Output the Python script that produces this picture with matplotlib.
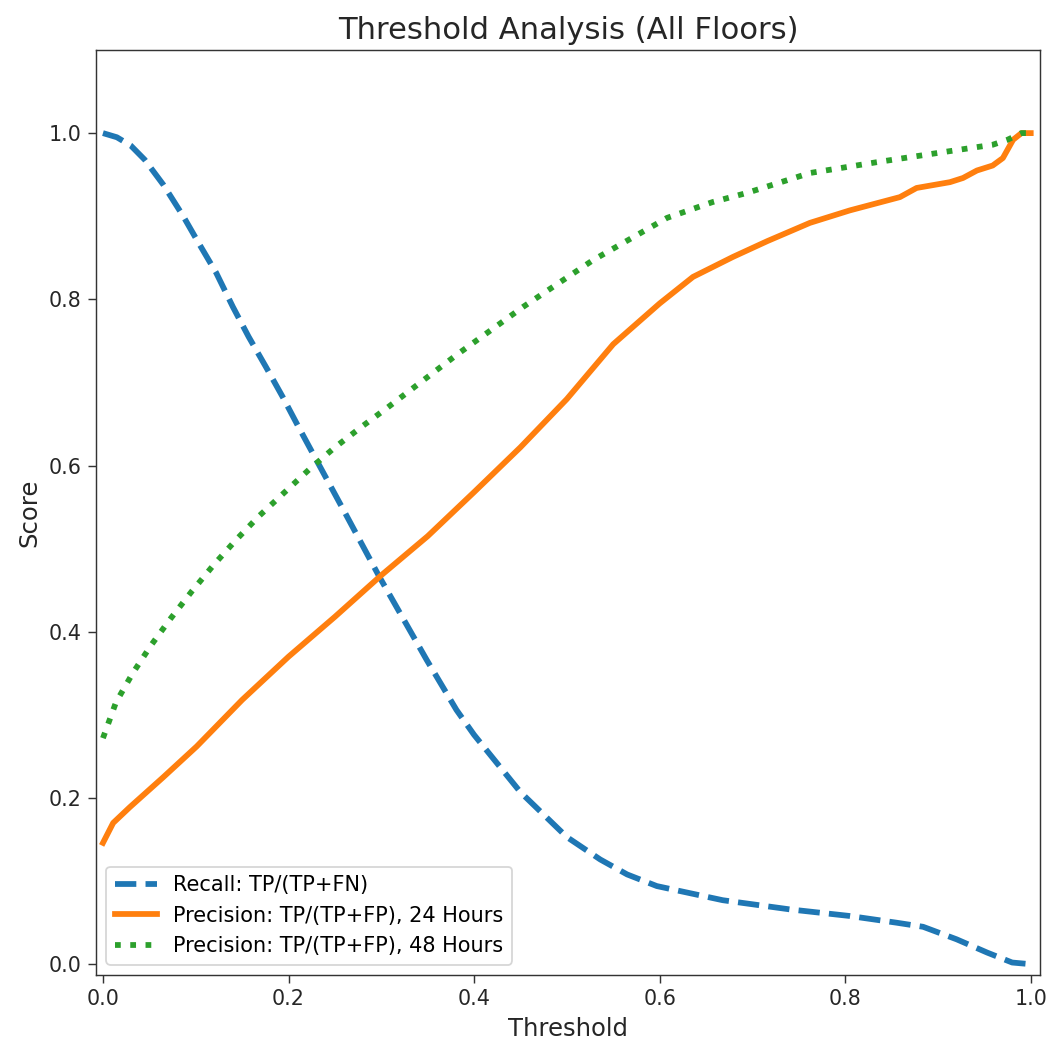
import matplotlib
matplotlib.use("Agg")
import matplotlib.pyplot as plt

recall_x = [0.0, 0.015, 0.03, 0.045, 0.065, 0.086, 0.103, 0.122, 0.140, 0.157, 0.176, 0.194,
            0.211, 0.226, 0.26, 0.298, 0.349, 0.381, 0.40, 0.45, 0.50, 0.536, 0.565, 0.597,
            0.668, 0.740, 0.805, 0.855, 0.884, 0.920, 0.953, 0.980, 1.0]
recall_y = [1.0, 0.995, 0.985, 0.968, 0.938, 0.901, 0.868, 0.832, 0.791, 0.755, 0.718, 0.682,
            0.646, 0.615, 0.545, 0.466, 0.366, 0.306, 0.276, 0.207, 0.153, 0.126, 0.108, 0.094,
            0.077, 0.066, 0.058, 0.050, 0.045, 0.030, 0.014, 0.002, 0.0]

prec24_x = [0.0, 0.011, 0.029, 0.065, 0.101, 0.15, 0.20, 0.25, 0.30, 0.35, 0.40, 0.45, 0.50,
            0.55, 0.60, 0.636, 0.679, 0.716, 0.762, 0.805, 0.859, 0.877, 0.913, 0.927,
            0.942, 0.959, 0.970, 0.981, 0.990, 1.0]
prec24_y = [0.146, 0.170, 0.189, 0.225, 0.262, 0.318, 0.370, 0.418, 0.468, 0.515, 0.568, 0.622,
            0.680, 0.746, 0.795, 0.827, 0.851, 0.870, 0.892, 0.907, 0.923, 0.934, 0.941, 0.946,
            0.955, 0.961, 0.970, 0.992, 1.0, 1.0]

prec48_x = [0.0, 0.014, 0.032, 0.052, 0.073, 0.096, 0.119, 0.143, 0.168, 0.195, 0.222, 0.249,
            0.278, 0.307, 0.381, 0.453, 0.528, 0.608, 0.657, 0.694, 0.762, 0.834, 0.905,
            0.959, 0.975, 0.990, 1.0]
prec48_y = [0.272, 0.315, 0.350, 0.384, 0.416, 0.449, 0.480, 0.510, 0.539, 0.567, 0.595, 0.621,
            0.646, 0.670, 0.733, 0.791, 0.847, 0.898, 0.917, 0.928, 0.952, 0.965, 0.977,
            0.986, 0.992, 1.0, 1.0]

labels = ["Recall: TP/(TP+FN)",
          "Precision: TP/(TP+FP), 24 Hours",
          "Precision: TP/(TP+FP), 48 Hours"]

DPI = 129.6
fig = plt.figure(figsize=(1048 / DPI, 1043 / DPI), dpi=DPI)
ax = fig.add_axes([96 / 1048, 1 - 975 / 1043, (1040 - 96) / 1048, (975 - 50) / 1043])

ax.plot(recall_x, recall_y, linestyle="--", color="#1f77b4", linewidth=3.2, label=labels[0])
ax.plot(prec24_x, prec24_y, linestyle="-", color="#ff7f0e", linewidth=3.2, label=labels[1])
ax.plot(prec48_x, prec48_y, linestyle=":", color="#2ca02c", linewidth=3.2, label=labels[2])

ax.set_xlim(-0.0075, 1.01)
ax.set_ylim(-0.013, 1.1)
ax.set_xticks([0.0, 0.2, 0.4, 0.6, 0.8, 1.0])
ax.set_yticks([0.0, 0.2, 0.4, 0.6, 0.8, 1.0])
ax.tick_params(labelsize=11.5, length=4.5, colors="#333333", labelcolor="#262626")
for s in ax.spines.values():
    s.set_color("#333333")
ax.set_xlabel("Threshold", fontsize=13.5, color="#262626")
ax.set_ylabel("Score", fontsize=13.5, color="#262626")
ax.set_title("Threshold Analysis (All Floors)", fontsize=17, color="#262626")
ax.legend(loc="lower left", fontsize=11.6)

fig.savefig("out.png", dpi=DPI)
